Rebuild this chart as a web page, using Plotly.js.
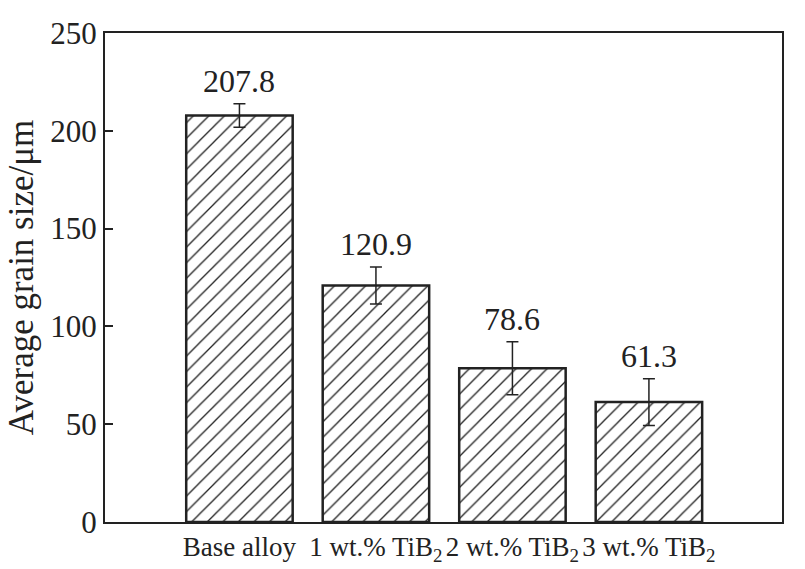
<!DOCTYPE html>
<html><head><meta charset="utf-8">
<script src="https://cdn.plot.ly/plotly-3.0.1.min.js"></script>
<style>html,body{margin:0;padding:0;background:#fff;}</style>
</head><body>
<div id="chart" style="width:805px;height:569px;"></div>
<script>
const categories = ["Base alloy", "1 wt.% TiB<sub>2</sub>", "2 wt.% TiB<sub>2</sub>", "3 wt.% TiB<sub>2</sub>"];
const grainSize = [207.8, 120.9, 78.6, 61.3];
const errors = [6, 9.5, 13.5, 12];
const valueLabels = ["207.8", "120.9", "78.6", "61.3"];
const yTicks = [0, 50, 100, 150, 200, 250];

const font = "'Liberation Serif', 'Times New Roman', serif";
const trace = {
  type: "bar",
  x: categories,
  y: grainSize,
  width: 0.78,
  marker: {
    color: "#ffffff",
    line: {color: "#222", width: 2.5},
    pattern: {shape: "/", size: 11, solidity: 0.12, fgcolor: "#222", bgcolor: "#ffffff"}
  },
  error_y: {type: "data", array: errors, visible: true, color: "#222", thickness: 1.5, width: 6},
  hoverinfo: "none"
};
const annotations = categories.map((c, i) => ({
  x: c, y: grainSize[i] + errors[i], xref: "x", yref: "y",
  text: valueLabels[i], showarrow: false, yanchor: "bottom", yshift: 3,
  font: {family: font, size: 32, color: "#222"}
}));
Plotly.newPlot("chart", [trace], {
  width: 805, height: 569,
  margin: {l: 105, r: 23, t: 33, b: 47},
  paper_bgcolor: "#fff", plot_bgcolor: "#fff",
  showlegend: false,
  xaxis: {
    type: "category", range: [-0.985, 3.975],
    showline: true, linecolor: "#222", linewidth: 2, mirror: true,
    ticks: "", tickfont: {family: font, size: 27, color: "#222"},
    showgrid: false, zeroline: false, fixedrange: true
  },
  yaxis: {
    range: [0, 250], tickvals: yTicks, ticktext: yTicks.map(String),
    showline: true, linecolor: "#222", linewidth: 2, mirror: true,
    ticks: "inside", ticklen: 8, tickwidth: 2, tickcolor: "#222",
    tickfont: {family: font, size: 31, color: "#222"},
    title: {text: "Average grain size/μm", font: {family: font, size: 35, color: "#222"}, standoff: 6},
    showgrid: false, zeroline: false, fixedrange: true
  },
  annotations: annotations
}, {displayModeBar: false, staticPlot: true});
</script>
</body></html>
